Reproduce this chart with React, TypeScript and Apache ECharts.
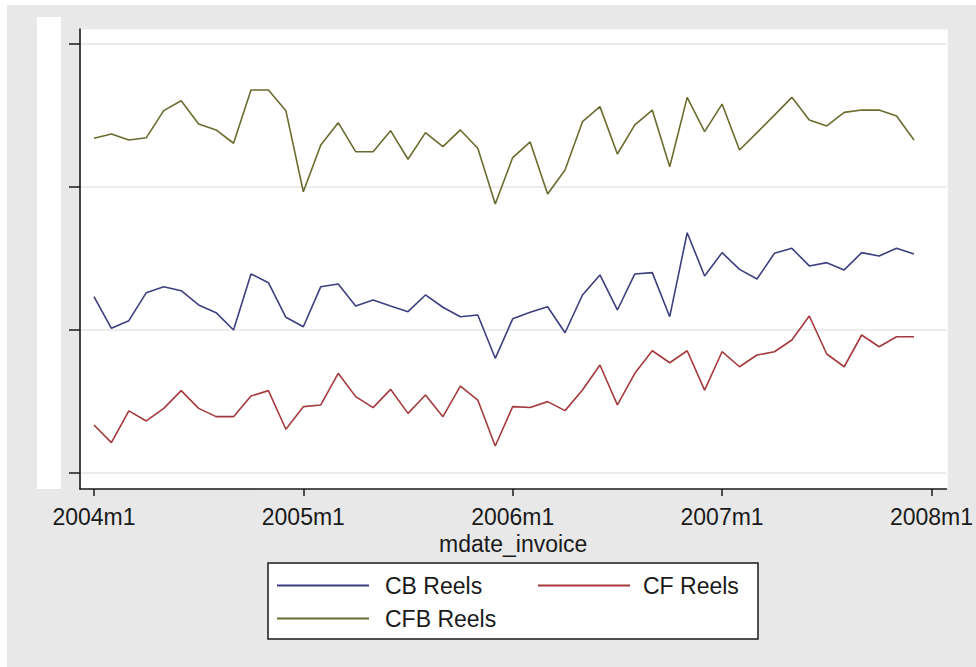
import React, { useEffect, useRef } from "react";
import * as echarts from "echarts";

// months since 2004m1 (0 = 2004m1 ... 47 = 2007m12)
const monthIndex = [
  0, 1, 2, 3, 4, 5, 6, 7, 8, 9, 10, 11,
  12, 13, 14, 15, 16, 17, 18, 19, 20, 21, 22, 23,
  24, 25, 26, 27, 28, 29, 30, 31, 32, 33, 34, 35,
  36, 37, 38, 39, 40, 41, 42, 43, 44, 45, 46, 47,
];
const tickMonths = [0, 12, 24, 36, 48];
const tickLabels = ["2004m1", "2005m1", "2006m1", "2007m1", "2008m1"];
const yTicks = [0, 100, 200, 300];

const cbReels = [
  123.3, 101.2, 106.5, 126.1, 130.3, 127.5, 117.5, 112.1, 100.0, 139.2, 133.1, 108.9,
  102.3, 130.3, 132.2, 116.8, 121.0, 116.8, 112.8, 124.5, 115.9, 109.3, 110.5, 80.2,
  107.8, 112.4, 116.3, 98.1, 124.5, 138.5, 114.0, 139.2, 140.1, 109.3, 168.0, 137.8,
  154.1, 142.4, 135.7, 153.6, 157.1, 144.8, 147.1, 142.0, 154.1, 151.7, 157.1, 153.1,
];
const cfReels = [
  33.6, 21.2, 43.4, 36.4, 45.2, 57.6, 45.2, 39.4, 39.4, 53.8, 57.6, 30.6,
  46.4, 47.6, 69.7, 53.4, 45.7, 58.5, 41.7, 54.5, 39.4, 60.8, 51.0, 18.9,
  46.4, 45.8, 49.9, 43.6, 58.0, 75.5, 47.6, 69.7, 85.5, 77.1, 85.5, 58.0,
  84.8, 74.3, 82.5, 84.8, 93.0, 109.8, 83.2, 74.3, 96.5, 88.3, 95.3, 95.3,
];
const cfbReels = [
  234.1, 237.1, 232.9, 234.5, 253.4, 260.3, 244.1, 239.9, 230.6, 267.8, 267.8, 253.4,
  196.7, 229.4, 245.0, 224.7, 224.7, 239.4, 219.4, 238.0, 228.2, 239.9, 227.1, 188.1,
  220.6, 231.5, 195.1, 211.9, 245.7, 256.2, 223.1, 243.4, 253.8, 214.2, 262.7, 238.7,
  258.0, 225.9, 238.0, 250.3, 262.7, 246.9, 242.7, 252.2, 253.8, 253.8, 249.7, 232.9,
];

const FONT = "'Liberation Sans', Arial, sans-serif";

export default function App() {
  const ref = useRef<HTMLDivElement>(null);
  useEffect(() => {
    if (!ref.current) return;
    const chart = echarts.init(ref.current, null, { renderer: "svg" });
    const mk = (name: string, vals: number[], color: string) => ({
      name,
      type: "line",
      data: vals.map((v, i) => [monthIndex[i], v]),
      symbol: "none",
      lineStyle: { color, width: 1.6 },
      itemStyle: { color },
      z: 5,
    });
    const leg = (name: string, left: number, top: number, padLeft: number) => ({
      left,
      top,
      padding: 0,
      itemWidth: 92,
      itemHeight: 2,
      icon: "rect",
      selectedMode: false,
      textStyle: { fontSize: 23, color: "#1a1a1a", fontFamily: FONT, padding: [0, 0, 0, padLeft] },
      data: [name],
    });
    chart.setOption({
      animation: false,
      backgroundColor: "#ffffff",
      textStyle: { fontFamily: FONT },
      graphic: [
        { type: "rect", z: -10, shape: { x: 7, y: 5, width: 969, height: 662 }, style: { fill: "#e8e8e8" } },
        { type: "rect", z: -9, shape: { x: 37, y: 17, width: 24, height: 472 }, style: { fill: "#ffffff" } },
        { type: "rect", z: -9, shape: { x: 80, y: 29, width: 868, height: 460 }, style: { fill: "#ffffff", stroke: "#eeeeee", lineWidth: 1 } },
        { type: "rect", z: -8, shape: { x: 268, y: 563, width: 490, height: 76 }, style: { fill: "#ffffff", stroke: "#1a1a1a", lineWidth: 1.5 } },
      ],
      grid: { left: 80, top: 29, width: 868, height: 460, show: false },
      xAxis: {
        type: "value",
        min: -0.8,
        max: 48.86,
        name: "mdate_invoice",
        nameLocation: "middle",
        nameGap: 28,
        nameTextStyle: { fontSize: 23, color: "#1a1a1a", fontFamily: FONT },
        axisLine: { onZero: false, lineStyle: { color: "#1a1a1a", width: 1.6 } },
        axisTick: { customValues: tickMonths, length: 7, lineStyle: { color: "#1a1a1a", width: 1.5 } },
        axisLabel: {
          customValues: tickMonths,
          margin: 16,
          fontSize: 23,
          color: "#1a1a1a",
          fontFamily: FONT,
          formatter: (v: number) => tickLabels[tickMonths.indexOf(Math.round(v))] ?? "",
        },
        splitLine: { show: false },
      },
      yAxis: {
        type: "value",
        min: -11.2,
        max: 310.5,
        axisLine: { show: true, onZero: false, lineStyle: { color: "#1a1a1a", width: 1.6 } },
        axisTick: { show: true, customValues: yTicks, length: 11, lineStyle: { color: "#1a1a1a", width: 1.5 } },
        axisLabel: { show: false, customValues: yTicks },
        splitLine: { show: true, lineStyle: { color: "#e6e6e6", width: 1.5 } },
      },
      legend: [
        leg("CB Reels", 277, 574, 11),
        leg("CF Reels", 538, 574, 8),
        leg("CFB Reels", 277, 607, 11),
      ],
      series: [
        mk("CB Reels", cbReels, "#3d3f7f"),
        mk("CF Reels", cfReels, "#a53a3e"),
        mk("CFB Reels", cfbReels, "#6b6b2e"),
      ],
    });
    return () => chart.dispose();
  }, []);
  return (
    <div style={{ position: "fixed", left: 0, top: 0, width: 976, height: 667, background: "#fff" }}>
      <div ref={ref} style={{ width: 976, height: 667 }} />
    </div>
  );
}
